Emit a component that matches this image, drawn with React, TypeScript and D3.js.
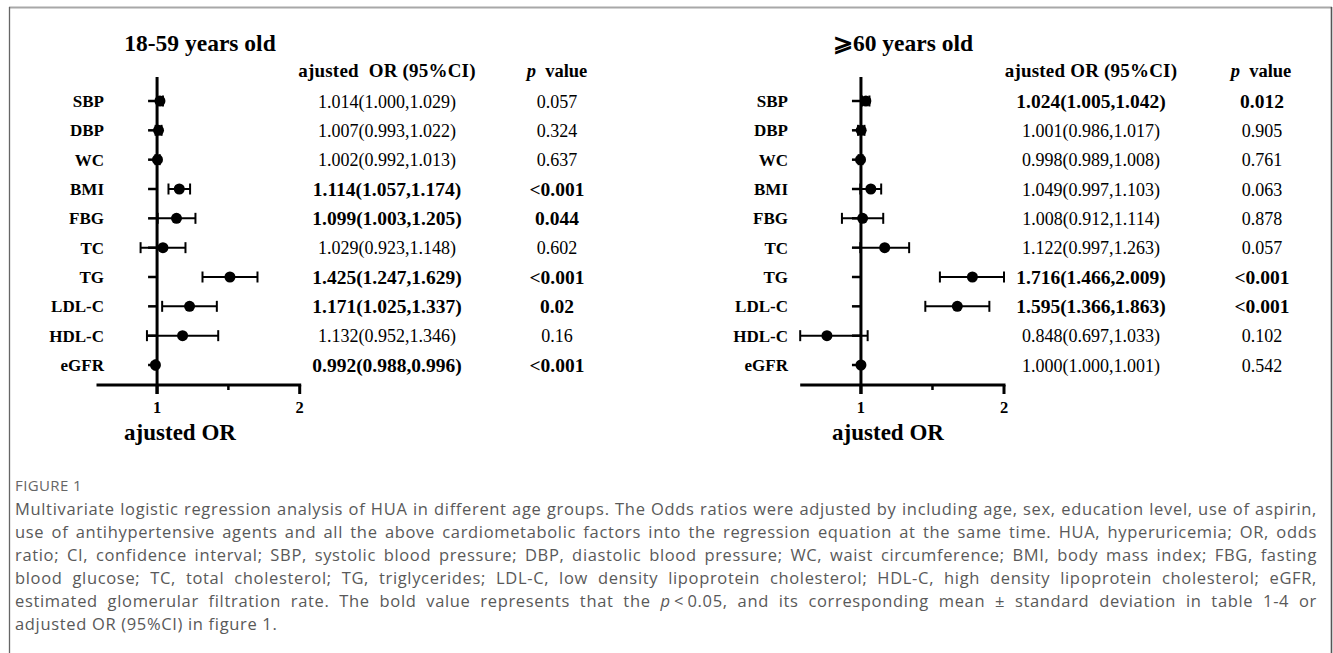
import React, { useLayoutEffect, useRef } from "react";
import * as d3 from "d3";

// ---------- data ----------
const variables = ["SBP", "DBP", "WC", "BMI", "FBG", "TC", "TG", "LDL-C", "HDL-C", "eGFR"];

const orYoung = [1.014, 1.007, 1.002, 1.114, 1.099, 1.029, 1.425, 1.171, 1.132, 0.992];
const loYoung = [1.0, 0.993, 0.992, 1.057, 1.003, 0.923, 1.247, 1.025, 0.952, 0.988];
const hiYoung = [1.029, 1.022, 1.013, 1.174, 1.205, 1.148, 1.629, 1.337, 1.346, 0.996];
const pYoung = ["0.057", "0.324", "0.637", "<0.001", "0.044", "0.602", "<0.001", "0.02", "0.16", "<0.001"];

const orOld = [1.024, 1.001, 0.998, 1.049, 1.008, 1.122, 1.716, 1.595, 0.848, 1.0];
const loOld = [1.005, 0.986, 0.989, 0.997, 0.912, 0.997, 1.466, 1.366, 0.697, 1.0];
const hiOld = [1.042, 1.017, 1.008, 1.103, 1.114, 1.263, 2.009, 1.863, 1.033, 1.001];
const pOld = ["0.012", "0.905", "0.761", "0.063", "0.878", "0.057", "<0.001", "<0.001", "0.102", "0.542"];

const xDomain = [0.745, 2];
const majorTicks = [1, 2];
const minorTicks = [Math.SQRT2];

const captionTitle = "FIGURE 1";
const captionLines = [
  "Multivariate logistic regression analysis of HUA in different age groups. The Odds ratios were adjusted by including age, sex, education level, use of aspirin,",
  "use of antihypertensive agents and all the above cardiometabolic factors into the regression equation at the same time. HUA, hyperuricemia; OR, odds",
  "ratio; CI, confidence interval; SBP, systolic blood pressure; DBP, diastolic blood pressure; WC, waist circumference; BMI, body mass index; FBG, fasting",
  "blood glucose; TC, total cholesterol; TG, triglycerides; LDL-C, low density lipoprotein cholesterol; HDL-C, high density lipoprotein cholesterol; eGFR,",
  "estimated glomerular filtration rate. The bold value represents that the |p|\u2009<\u20090.05, and its corresponding mean \u00b1 standard deviation in table 1-4 or",
  "adjusted OR (95%CI) in figure 1.",
];

const SERIF = "'Liberation Serif', 'Times New Roman', serif";

const isSig = (p: string) => p.startsWith("<") || parseFloat(p) < 0.05;

type PanelProps = {
  title: string;
  titleX: number;
  labelX: number;
  range: [number, number];
  or: number[];
  lo: number[];
  hi: number[];
  p: string[];
  orColX: number;
  pColX: number;
  pHeadX: number;
  axisTitleX: number;
  header: string;
};

function Panel(props: PanelProps) {
  const { title, titleX, labelX, range, or, lo, hi, p, orColX, pColX, pHeadX, axisTitleX, header } = props;
  const x = d3.scaleLog().base(2).domain(xDomain).range(range).clamp(true);
  const y = d3.scalePoint<string>().domain(variables).range([101, 365]);
  const axisY = 385;
  const x1 = x(1);
  return (
    <g>
      <text x={titleX} y={51} textAnchor="middle" fontFamily={SERIF} fontWeight="bold" fontSize={23.5}>
        {title}
      </text>
      <text
        x={orColX}
        y={77}
        textAnchor="middle"
        fontFamily={SERIF}
        fontWeight="bold"
        fontSize={19}
        letterSpacing={0.2}
      >
        {header}
      </text>
      <text x={pHeadX} y={77} textAnchor="middle" fontFamily={SERIF} fontWeight="bold" fontSize={18.5}>
        <tspan fontStyle="italic">p</tspan>
        <tspan>{"\u00a0 value"}</tspan>
      </text>
      <line x1={x1} x2={x1} y1={77} y2={axisY + 9} stroke="#000" strokeWidth={3} />
      <line x1={range[0]} x2={range[1] + 1.5} y1={axisY} y2={axisY} stroke="#000" strokeWidth={3} />
      {majorTicks.map((t) => (
        <g key={"mt" + t}>
          <line x1={x(t)} x2={x(t)} y1={axisY} y2={axisY + 9} stroke="#000" strokeWidth={3} />
          <text x={x(t)} y={413} textAnchor="middle" fontFamily={SERIF} fontWeight="bold" fontSize={16.5}>
            {t}
          </text>
        </g>
      ))}
      {minorTicks.map((t) => (
        <line key={"mn" + t} x1={x(t)} x2={x(t)} y1={axisY} y2={axisY + 5} stroke="#000" strokeWidth={2.5} />
      ))}
      <text x={axisTitleX} y={440} textAnchor="middle" fontFamily={SERIF} fontWeight="bold" fontSize={23}>
        ajusted OR
      </text>
      {variables.map((v, i) => {
        const yy = y(v) as number;
        const bold = isSig(p[i]);
        return (
          <g key={v}>
            <text x={labelX} y={yy + 6} textAnchor="end" fontFamily={SERIF} fontWeight="bold" fontSize={17}>
              {v}
            </text>
            <line x1={x1 - 9} x2={x1} y1={yy} y2={yy} stroke="#000" strokeWidth={2.5} />
            <line x1={x(lo[i])} x2={x(hi[i])} y1={yy} y2={yy} stroke="#000" strokeWidth={2} />
            <line x1={x(lo[i])} x2={x(lo[i])} y1={yy - 5.5} y2={yy + 5.5} stroke="#000" strokeWidth={2} />
            <line x1={x(hi[i])} x2={x(hi[i])} y1={yy - 5.5} y2={yy + 5.5} stroke="#000" strokeWidth={2} />
            <circle cx={x(or[i])} cy={yy} r={5.5} fill="#000" />
            <text
              x={orColX}
              y={yy + 6.5}
              textAnchor="middle"
              fontFamily={SERIF}
              fontWeight={bold ? "bold" : "normal"}
              fontSize={bold ? 19.5 : 18}
            >
              {`${or[i].toFixed(3)}(${lo[i].toFixed(3)},${hi[i].toFixed(3)})`}
            </text>
            <text
              x={pColX}
              y={yy + 6.5}
              textAnchor="middle"
              fontFamily={SERIF}
              fontWeight={bold ? "bold" : "normal"}
              fontSize={bold ? 19.5 : 18}
            >
              {p[i]}
            </text>
          </g>
        );
      })}
    </g>
  );
}

function Caption() {
  const refs = useRef<(SVGTextElement | null)[]>([]);
  const left = 15;
  const right = 1317;
  useLayoutEffect(() => {
    const els = refs.current;
    const first = els[0];
    if (!first) return;
    // calibrate letter spacing so that the first line is nearly full with normal word gaps
    first.setAttribute("letter-spacing", "0");
    first.setAttribute("word-spacing", "0");
    const base = first.getComputedTextLength();
    const n = (first.textContent || "").length;
    const ls = Math.max(0, (right - left - 12 - base) / n);
    els.forEach((el, i) => {
      if (!el) return;
      el.setAttribute("letter-spacing", String(ls));
      el.setAttribute("word-spacing", "0");
      if (i === captionLines.length - 1) return;
      const len = el.getComputedTextLength();
      const spaces = (el.textContent || "").split(" ").length - 1;
      if (spaces > 0) el.setAttribute("word-spacing", String((right - left - len) / spaces));
    });
  }, []);
  return (
    <g fontFamily="'Open Sans', 'Noto Sans', sans-serif" fill="#595959">
      <text x={left} y={491} fontSize={15} fill="#666" letterSpacing={0.4}>
        {captionTitle}
      </text>
      {captionLines.map((line, i) => {
        const parts = line.split("|");
        return (
          <text
            key={i}
            ref={(el) => {
              refs.current[i] = el;
            }}
            x={left}
            y={515 + 23 * i}
            fontSize={16.5}
          >
            {parts.map((pt, j) =>
              j % 2 === 1 ? (
                <tspan key={j} fontStyle="italic">
                  {pt}
                </tspan>
              ) : (
                <tspan key={j}>{pt}</tspan>
              )
            )}
          </text>
        );
      })}
    </g>
  );
}

export default function App() {
  return (
    <svg
      width={1333}
      height={653}
      style={{ position: "absolute", left: 0, top: 0, background: "#fff" }}
    >
      <rect x={0} y={0} width={1333} height={653} fill="#fff" />
      <line x1={9} x2={1332} y1={7.5} y2={7.5} stroke="#a8a8a8" strokeWidth={2} />
      <line x1={9.5} x2={9.5} y1={7} y2={653} stroke="#666" strokeWidth={1.3} />
      <line x1={1331.5} x2={1331.5} y1={7} y2={653} stroke="#555" strokeWidth={1.6} />
      <Panel
        title="18-59 years old"
        titleX={200}
        labelX={104}
        range={[96.5, 299.7]}
        or={orYoung}
        lo={loYoung}
        hi={hiYoung}
        p={pYoung}
        orColX={387}
        pColX={557}
        pHeadX={557}
        axisTitleX={180}
        header={"ajusted\u00a0\u00a0OR (95%CI)"}
      />
      <Panel
        title={"\u2A7E60 years old"}
        titleX={903}
        labelX={788}
        range={[800.2, 1004]}
        or={orOld}
        lo={loOld}
        hi={hiOld}
        p={pOld}
        orColX={1091}
        pColX={1262}
        pHeadX={1261}
        axisTitleX={888}
        header={"ajusted OR (95%CI)"}
      />
      <Caption />
    </svg>
  );
}
